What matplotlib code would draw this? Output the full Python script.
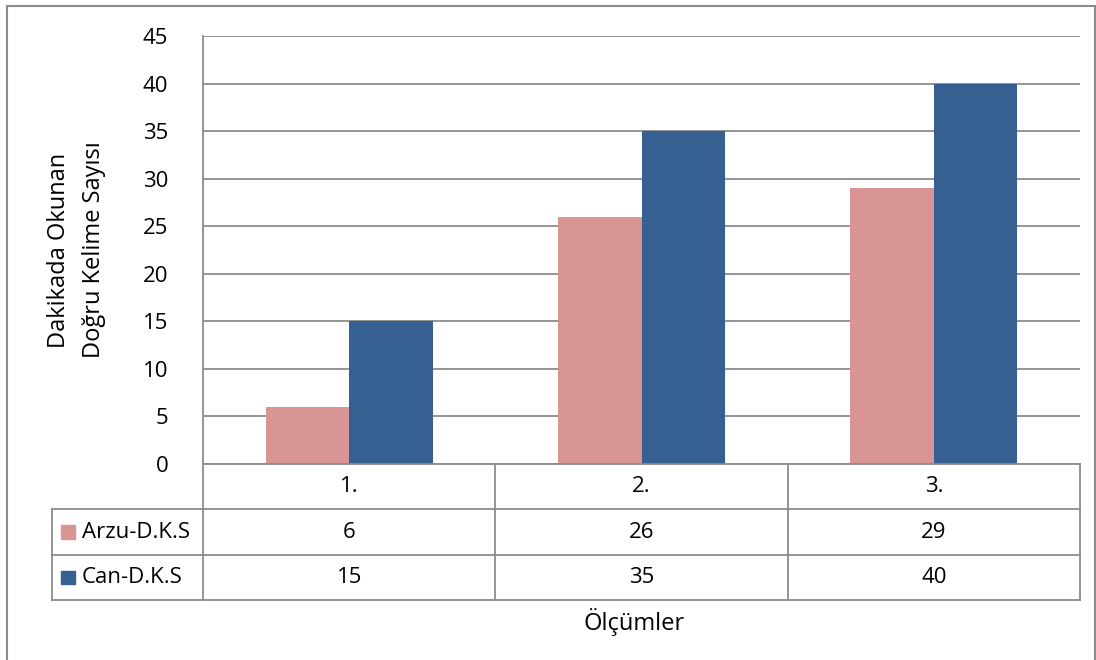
import numpy as np
import matplotlib
matplotlib.use("Agg")
import matplotlib.pyplot as plt
from matplotlib.patches import Rectangle

# veriler
olcumler = ["1.", "2.", "3."]
seriler = ["Arzu-D.K.S", "Can-D.K.S"]
arzu = [6, 26, 29]
can = [15, 35, 40]
renkler = ["#D99594", "#366092"]
y_ticks = [0, 5, 10, 15, 20, 25, 30, 35, 40, 45]

plt.rcParams['font.family'] = ['Open Sans', 'DejaVu Sans']
W, H = 1096, 660
fig = plt.figure(figsize=(W / 100, H / 100), dpi=100)

def fx(px):
    return px / W

def fy(py):
    return 1 - py / H

grid_col = "#8C8C8C"
fs = 16

# dis cerceve
fig.patches.append(Rectangle((fx(7), fy(700)), fx(1088), fy(6) - fy(700),
                             transform=fig.transFigure, fill=False,
                             edgecolor="#8C8C8C", lw=1.5))

# grafik alani
ax = fig.add_axes([fx(203), fy(464), fx(1080) - fx(203), fy(36) - fy(464)])
x = np.arange(len(olcumler))
w = 1 / 3.5
ax.bar(x - w / 2, arzu, w, color=renkler[0], zorder=3)
ax.bar(x + w / 2, can, w, color=renkler[1], zorder=3)
ax.set_xlim(-0.5, 2.5)
ax.set_ylim(0, 45)
ax.set_yticks(y_ticks)
ax.tick_params(axis='y', length=0, labelsize=fs, pad=25)
ax.set_xticks([])
ax.yaxis.grid(True, color=grid_col, lw=1.3, zorder=0)
for s in ["top", "right", "bottom"]:
    ax.spines[s].set_visible(False)
ax.spines["left"].set_color(grid_col)
ax.spines["left"].set_linewidth(1.3)

# veri tablosu
px_cat = 877 / 3
leg_w = 151 / px_cat
tx = fig.add_axes([fx(52), fy(600), fx(1080) - fx(52), fy(464) - fy(600)])
tx.set_xlim(-0.5 - leg_w, 2.5)
tx.set_ylim(0, 3)
tx.axis("off")
lk = dict(color=grid_col, lw=1.3, clip_on=False)
tx.plot([-0.5, 2.5], [3, 3], **lk)
for yy in [0, 1, 2]:
    tx.plot([-0.5 - leg_w, 2.5], [yy, yy], **lk)
tx.plot([-0.5 - leg_w, -0.5 - leg_w], [0, 2], **lk)
for xx in [-0.5, 0.5, 1.5, 2.5]:
    tx.plot([xx, xx], [0, 3], **lk)

x0 = -0.5 - leg_w
for i, o in enumerate(olcumler):
    tx.text(i, 2.5, o, ha="center", va="center", fontsize=fs)
for j, (ad, vals) in enumerate(zip(seriler, [arzu, can])):
    yc = 1.5 - j
    tx.add_patch(Rectangle((x0 + 9 / px_cat, yc - 0.15), 14 / px_cat, 0.3,
                           color=renkler[j], clip_on=False))
    tx.text(x0 + 30 / px_cat, yc, ad, ha="left", va="center", fontsize=fs)
    for i, v in enumerate(vals):
        tx.text(i, yc, str(v), ha="center", va="center", fontsize=fs)

# eksen basliklari
fig.text(fx(59), fy(250), "Dakikada Okunan", rotation=90, ha="center",
         va="center", rotation_mode="anchor", fontsize=fs + 1)
fig.text(fx(94), fy(250), "Doğru Kelime Sayısı", rotation=90, ha="center",
         va="center", rotation_mode="anchor", fontsize=fs + 1)
fig.text(fx(634), fy(622), "Ölçümler", ha="center", va="center", fontsize=fs + 1)

fig.savefig("out.png", dpi=100)
